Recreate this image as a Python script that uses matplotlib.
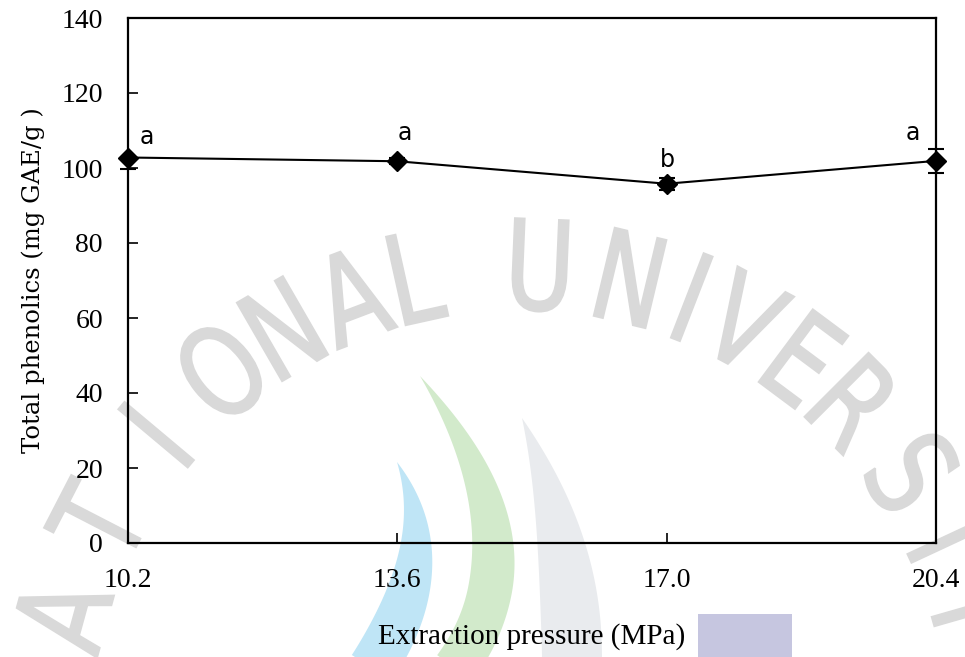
import numpy as np
import matplotlib
matplotlib.use('Agg')
import matplotlib.pyplot as plt
from matplotlib.patches import Polygon, Rectangle, PathPatch
from matplotlib.textpath import TextPath
from matplotlib.transforms import Affine2D
from matplotlib.font_manager import FontProperties

# data
pressure = [10.2, 13.6, 17.0, 20.4]            # MPa
phenolics = [102.8, 101.8, 95.8, 101.9]        # mg GAE/g
err_low = [3.0, 0.8, 1.6, 3.3]
err_high = [0.0, 0.8, 1.6, 3.3]
letters = ['a', 'a', 'b', 'a']
x_ticks = ['10.2', '13.6', '17.0', '20.4']
y_ticks = [0, 20, 40, 60, 80, 100, 120, 140]

# letter offsets (pixels) from each point
letter_offsets = [(19, 21), (7, 28), (1, 24), (-23, 28)]

W, H = 965, 657
fig = plt.figure(figsize=(W / 100, H / 100), dpi=100)
to_fig = Affine2D().scale(1 / W, 1 / H) + fig.transFigure   # pixel (y up) -> figure


def px(x, y):
    return x / W, 1 - y / H


# ── faint university watermark behind the chart ─────────────────────────
def crescent(p0, p1, p2, wmax, peak, color):
    t = np.linspace(0, 1, 80)
    p0, p1, p2 = map(np.asarray, (p0, p1, p2))
    c = ((1 - t) ** 2)[:, None] * p0 + (2 * t * (1 - t))[:, None] * p1 + (t ** 2)[:, None] * p2
    d = np.gradient(c, axis=0)
    n = np.c_[-d[:, 1], d[:, 0]]
    n /= np.linalg.norm(n, axis=1)[:, None]
    w = 0.5 * wmax * np.sin(np.pi * np.clip(t / (2 * peak), 0, 0.5))
    pts = np.r_[c + n * w[:, None], (c - n * w[:, None])[::-1]]
    pts = np.c_[pts[:, 0] / W, 1 - pts[:, 1] / H]
    fig.patches.append(Polygon(pts, closed=True, transform=fig.transFigure,
                               facecolor=color, edgecolor='none', zorder=-2))


crescent((397, 462), (445, 556), (372, 668), 48, 0.95, '#bfe5f6')
crescent((420, 376), (546, 544), (455, 668), 44, 0.7, '#d2eacb')
crescent((522, 418), (573, 537), (572, 668), 60, 0.9, '#e9ebee')
fig.patches.append(Rectangle(px(698, 657), 94 / W, 43 / H, transform=fig.transFigure,
                             facecolor='#c6c6e0', edgecolor='none', zorder=-2))

wm_text = "NATIONALUNIVERSITY"
wm_angles = [177, 164.7, 152.7, 140, 129, 120, 110.8, 102.5,
             87.6, 76.6, 68.8, 61.8, 53.3, 45, 34.3, 25, 16, 6]
wm_font = FontProperties(family='DejaVu Sans')
cx, cy, r = 520, 740, 475
for ch, th in zip(wm_text, wm_angles):
    tp = TextPath((0, 0), ch, size=1, prop=wm_font)
    e = tp.get_extents()
    x = cx + r * np.cos(np.radians(th))
    y = cy - r * np.sin(np.radians(th))
    tr = (Affine2D().translate(-e.x0 - e.width / 2, -e.y0 - e.height / 2)
          .scale(96, 124).rotate_deg(th - 90).translate(x, H - y) + to_fig)
    fig.patches.append(PathPatch(tp, transform=tr, facecolor='#d9d9d9',
                                 edgecolor='#d9d9d9', linewidth=1.5, zorder=-1))

# ── chart ───────────────────────────────────────────────────────────────
l, b = px(128, 543)
rr, t = px(936, 18)
ax = fig.add_axes([l, b, rr - l, t - b])
ax.patch.set_alpha(0)

ax.errorbar(pressure, phenolics, yerr=[err_low, err_high], fmt='-D', color='black',
            lw=1.5, ms=10, capsize=6, elinewidth=1.5, capthick=1.5, clip_on=False, zorder=3)

for xv, yv, lab, (dx, dy) in zip(pressure, phenolics, letters, letter_offsets):
    ax.annotate(lab, (xv, yv), xytext=(dx, dy), textcoords='offset pixels',
                ha='center', va='center', fontsize=17, family='DejaVu Sans')

ax.set_xlim(10.2, 20.4)
ax.set_ylim(0, 140)
ax.set_xticks(pressure)
ax.set_xticklabels(x_ticks)
ax.set_yticks(y_ticks)
ax.tick_params(direction='in', length=7, width=1.2, labelsize=20, pad=18)
for s in ax.spines.values():
    s.set_linewidth(1.6)
for lab in ax.get_xticklabels() + ax.get_yticklabels():
    lab.set_family('Liberation Serif')

ax.set_ylabel('Total phenolics (mg GAE/g )', family='DejaVu Serif', fontsize=17.5, labelpad=12)
ax.set_xlabel('Extraction pressure (MPa)', family='Liberation Serif', fontsize=21, labelpad=22)

fig.savefig('out.png', dpi=100)
